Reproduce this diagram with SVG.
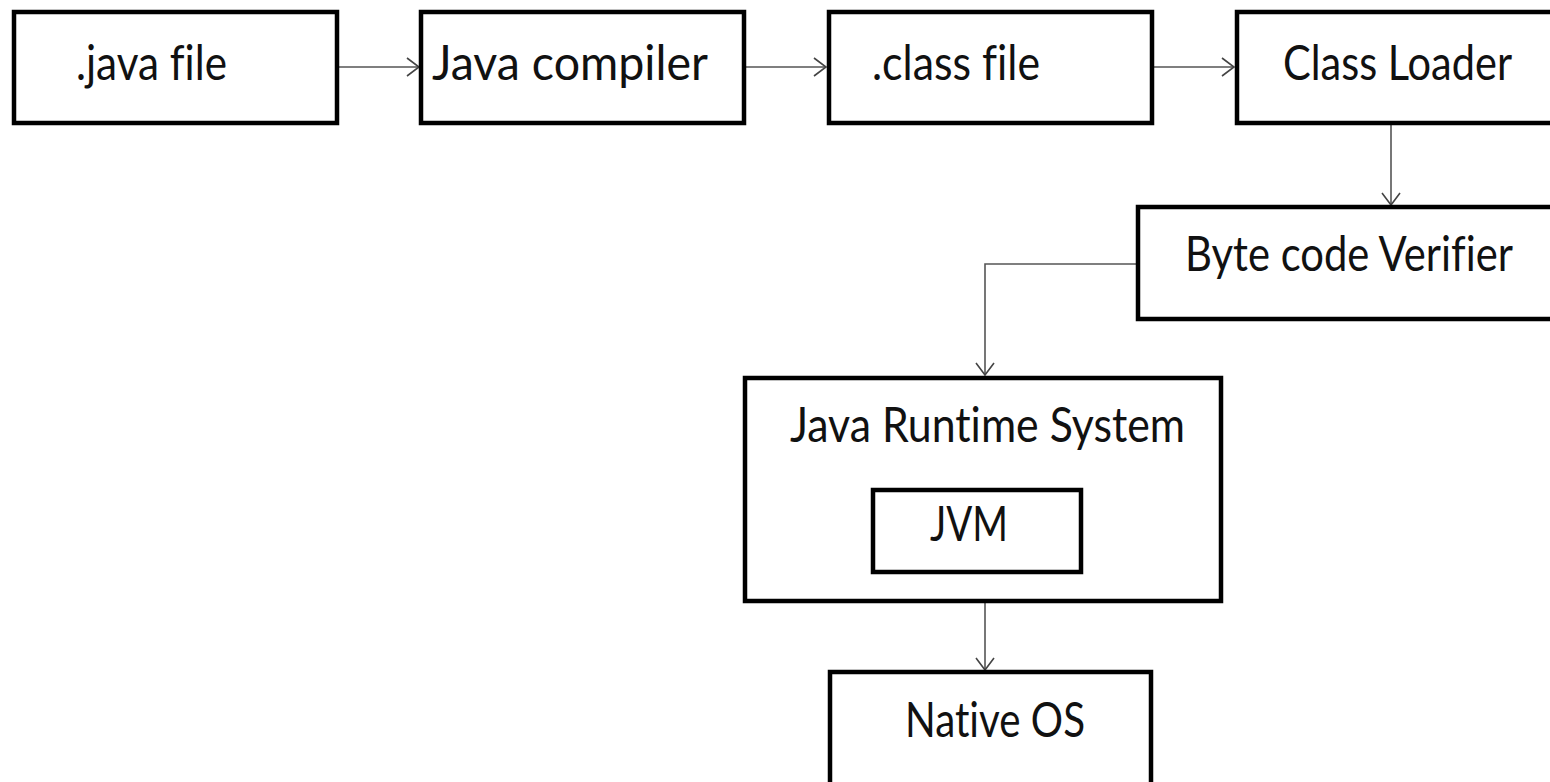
<svg xmlns="http://www.w3.org/2000/svg" width="1550" height="782" viewBox="0 0 1550 782">
<defs>
<marker id="arr" markerWidth="14" markerHeight="20" refX="13" refY="10" orient="auto" markerUnits="userSpaceOnUse">
<path d="M1,1 L13,10 L1,19" fill="none" stroke="#444" stroke-width="1.6"/>
</marker>
<style>
.box{fill:#fff;stroke:#000;stroke-width:4.5}
.lbl{font-family:Lato,"Open Sans","Liberation Sans",sans-serif;font-size:48px;fill:#111;font-variant-ligatures:none}
.con{fill:none;stroke:#555;stroke-width:1.6}
</style>
</defs>
<rect width="1550" height="782" fill="#fff"/>
<g id="connectors">
<line class="con" x1="339" y1="67" x2="419" y2="67" marker-end="url(#arr)"/>
<line class="con" x1="746" y1="67" x2="826" y2="67" marker-end="url(#arr)"/>
<line class="con" x1="1153" y1="67" x2="1234" y2="67" marker-end="url(#arr)"/>
<line class="con" x1="1391" y1="125" x2="1391" y2="205" marker-end="url(#arr)"/>
<polyline class="con" points="1137,264 985,264 985,375" marker-end="url(#arr)"/>
<line class="con" x1="985" y1="603" x2="985" y2="670" marker-end="url(#arr)"/>
</g>
<g id="java-file">
<rect class="box" x="14" y="12" width="323" height="111"/>
<text class="lbl" x="76" y="80" textLength="151" lengthAdjust="spacingAndGlyphs">.java file</text>
</g>
<g id="java-compiler">
<rect class="box" x="421" y="12" width="323" height="111"/>
<text class="lbl" x="432" y="80" textLength="276" lengthAdjust="spacingAndGlyphs">Java compiler</text>
</g>
<g id="class-file">
<rect class="box" x="829" y="12" width="323" height="111"/>
<text class="lbl" x="872" y="80" textLength="168" lengthAdjust="spacingAndGlyphs">.class file</text>
</g>
<g id="class-loader">
<rect class="box" x="1237" y="12" width="330" height="111"/>
<text class="lbl" x="1283" y="80" textLength="229" lengthAdjust="spacingAndGlyphs">Class Loader</text>
</g>
<g id="byte-code-verifier">
<rect class="box" x="1138" y="207" width="430" height="112"/>
<text class="lbl" x="1185" y="271" textLength="328" lengthAdjust="spacingAndGlyphs">Byte code Verifier</text>
</g>
<g id="java-runtime-system">
<rect class="box" x="745" y="378" width="476" height="223"/>
<text class="lbl" x="790" y="442" textLength="395" lengthAdjust="spacingAndGlyphs">Java Runtime System</text>
</g>
<g id="jvm">
<rect class="box" x="873" y="490" width="208" height="82"/>
<text class="lbl" x="930" y="541" textLength="78" lengthAdjust="spacingAndGlyphs">JVM</text>
</g>
<g id="native-os">
<rect class="box" x="830" y="672" width="321" height="130"/>
<text class="lbl" x="905" y="737" textLength="180" lengthAdjust="spacingAndGlyphs">Native OS</text>
</g>
</svg>
